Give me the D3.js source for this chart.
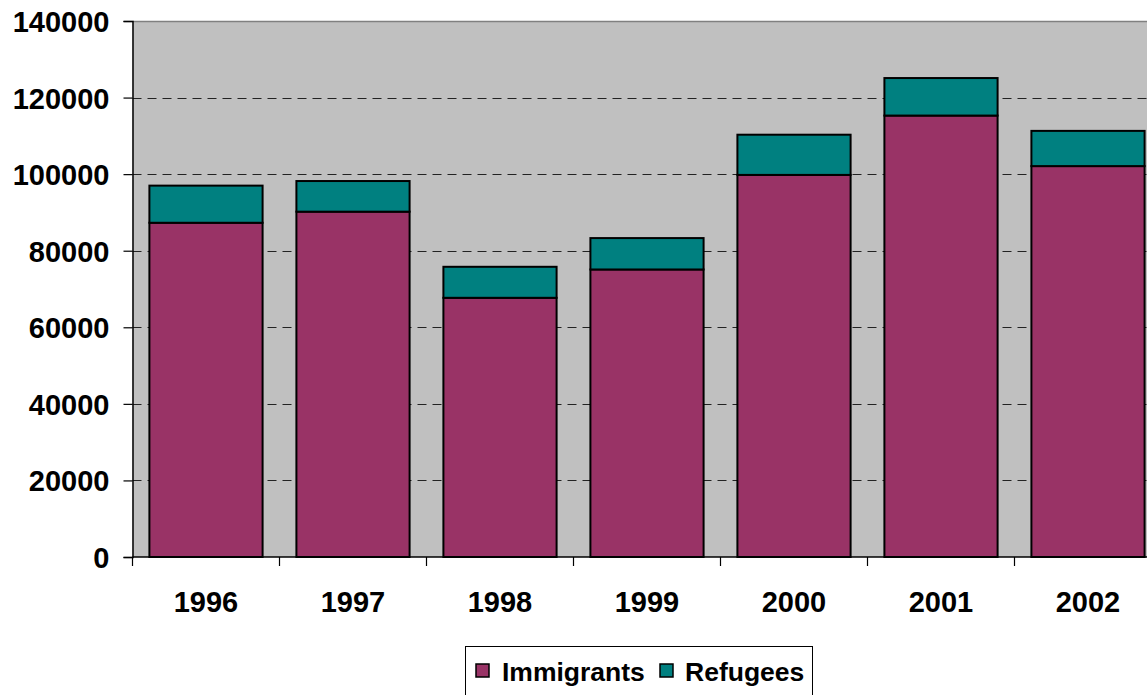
<!DOCTYPE html>
<html>
<head>
<meta charset="utf-8">
<script src="https://cdn.jsdelivr.net/npm/d3@7"></script>
<style>
  html, body { margin: 0; padding: 0; background: #ffffff; overflow: hidden; }
  svg { display: block; }
  text { font-family: "Liberation Sans", Arial, sans-serif; font-weight: bold; fill: #000; }
</style>
</head>
<body>
<svg id="chart" width="1147" height="695"></svg>
<script>
// Annual arrivals, stacked: immigrants at the base, refugees on top
const years = ["1996", "1997", "1998", "1999", "2000", "2001", "2002"];
const immigrants = [87300, 90200, 67700, 75100, 99800, 115300, 102100];
const refugees = [9700, 8000, 8100, 8200, 10500, 9800, 9200];
const yTicks = [0, 20000, 40000, 60000, 80000, 100000, 120000, 140000];
const seriesNames = ["Immigrants", "Refugees"];
const seriesColors = ["#993366", "#008080"];

const svg = d3.select("#chart");

const plot = { left: 132.5, top: 21, bottom: 557, width: 1029 };

const x = d3.scaleBand()
  .domain(years)
  .range([plot.left, plot.left + plot.width])
  .paddingInner(0.23)
  .paddingOuter(0.115);

const y = d3.scaleLinear()
  .domain([0, 140000])
  .range([plot.bottom, plot.top]);

// Plot background
svg.append("rect")
  .attr("x", plot.left).attr("y", plot.top)
  .attr("width", plot.width).attr("height", plot.bottom - plot.top)
  .attr("fill", "#c0c0c0");

svg.append("line")
  .attr("x1", plot.left).attr("x2", plot.left + plot.width)
  .attr("y1", plot.top + 0.5).attr("y2", plot.top + 0.5)
  .attr("stroke", "#808080").attr("stroke-width", 1.5);

// Dashed gridlines
svg.append("g")
  .selectAll("line")
  .data(yTicks.filter(t => t > 0 && t < 140000))
  .join("line")
  .attr("x1", plot.left).attr("x2", plot.left + plot.width)
  .attr("y1", d => Math.round(y(d)) + 0.5).attr("y2", d => Math.round(y(d)) + 0.5)
  .attr("stroke", "#222").attr("stroke-width", 1)
  .attr("stroke-dasharray", "9,6");

// Stacked bars
const stackData = years.map((yr, i) => ({ year: yr, Immigrants: immigrants[i], Refugees: refugees[i] }));
const stacked = d3.stack().keys(seriesNames)(stackData);

svg.append("g")
  .selectAll("g")
  .data(stacked)
  .join("g")
  .attr("fill", (d, i) => seriesColors[i])
  .selectAll("rect")
  .data(d => d)
  .join("rect")
  .attr("x", d => x(d.data.year))
  .attr("y", d => y(d[1]))
  .attr("width", x.bandwidth())
  .attr("height", d => y(d[0]) - y(d[1]))
  .attr("stroke", "#000")
  .attr("stroke-width", 2);

// Y axis
const yAxis = d3.axisLeft(y)
  .tickValues(yTicks)
  .tickSize(9)
  .tickPadding(14)
  .tickFormat(d3.format("d"));

const gy = svg.append("g")
  .attr("transform", `translate(${plot.left},0)`)
  .call(yAxis);
gy.select(".domain").attr("stroke", "#000").attr("stroke-width", 1.5);
gy.selectAll(".tick line").attr("stroke", "#000").attr("stroke-width", 1.2);
gy.selectAll(".tick text")
  .attr("font-size", 29)
  .attr("font-family", "'Liberation Sans', Arial, sans-serif")
  .attr("font-weight", "bold")
  .attr("dy", "0.36em");

// X axis with ticks at band boundaries
const gx = svg.append("g")
  .attr("transform", `translate(0,${plot.bottom})`);
gx.append("line")
  .attr("x1", plot.left).attr("x2", plot.left + plot.width)
  .attr("y1", 0).attr("y2", 0)
  .attr("stroke", "#000").attr("stroke-width", 1.5);
const boundaries = years.map(yr => x(yr) - x.step() * x.paddingOuter());
boundaries.push(plot.left + plot.width);
gx.selectAll("line.tk")
  .data(boundaries)
  .join("line")
  .attr("class", "tk")
  .attr("x1", d => d).attr("x2", d => d)
  .attr("y1", 0).attr("y2", 9)
  .attr("stroke", "#000").attr("stroke-width", 1.2);
gx.selectAll("text")
  .data(years)
  .join("text")
  .attr("x", d => x(d) + x.bandwidth() / 2)
  .attr("y", 55)
  .attr("text-anchor", "middle")
  .attr("font-size", 29)
  .text(d => d);

// Legend
const legend = svg.append("g");
legend.append("rect")
  .attr("x", 465.5).attr("y", 646.5)
  .attr("width", 347).attr("height", 60)
  .attr("fill", "#fff").attr("stroke", "#000").attr("stroke-width", 1);

const legendItems = [
  { name: seriesNames[0], color: seriesColors[0], mx: 476, tx: 502 },
  { name: seriesNames[1], color: seriesColors[1], mx: 660, tx: 685 }
];
const li = legend.selectAll("g.item")
  .data(legendItems)
  .join("g").attr("class", "item");
li.append("rect")
  .attr("x", d => d.mx).attr("y", 664)
  .attr("width", 13).attr("height", 13)
  .attr("fill", d => d.color)
  .attr("stroke", "#000").attr("stroke-width", 1.5);
li.append("text")
  .attr("x", d => d.tx).attr("y", 681)
  .attr("font-size", 26.5)
  .text(d => d.name);
</script>
</body>
</html>
